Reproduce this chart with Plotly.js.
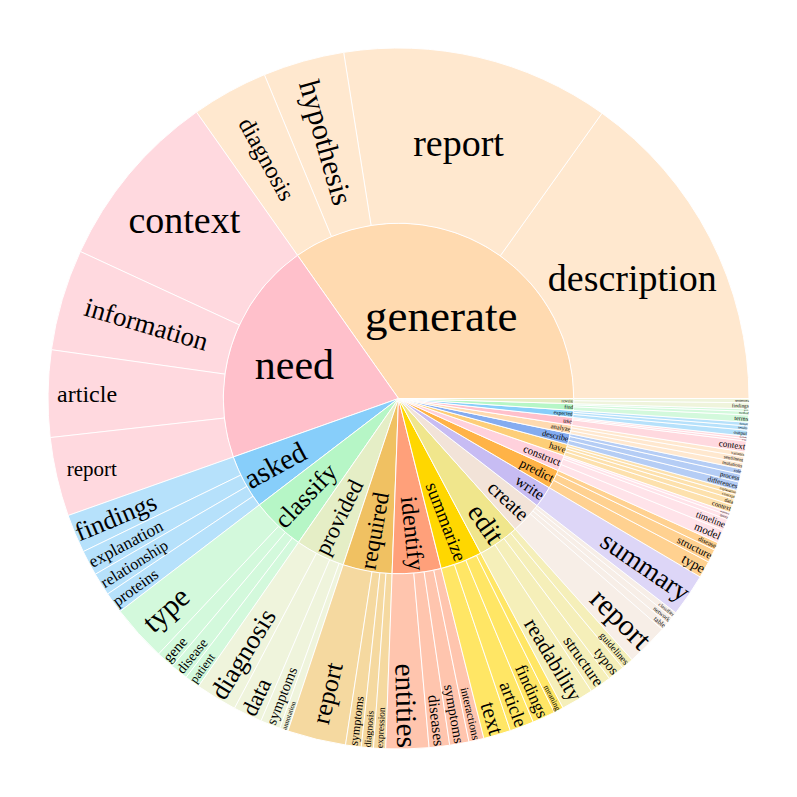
<!DOCTYPE html>
<html>
<head>
<meta charset="utf-8">
<script src="https://cdn.plot.ly/plotly-3.0.1.min.js"></script>
<style>html,body{margin:0;padding:0;background:#fff;}</style>
</head>
<body>
<div id="chart" style="width:797px;height:797px;"></div>
<script>
// root verbs, biggest first
var verbs = ['generate', 'need', 'asked', 'classify', 'provided', 'required', 'identify', 'summarize',
  'edit', 'create', 'write', 'predict', 'construct', 'have', 'describe', 'analyze', 'use',
  'expected', 'find', 'rewrite'];

var verbColors = ['#FFDAB0', '#FFC0CB', '#87CEFA', '#B6F6C6', '#E5EEC6', '#F0C162', '#FFA07A', '#FFD700',
  '#F0E68C', '#F2E3D8', '#C7BCF3', '#FFB347', '#FFD1DC', '#FDCE78', '#84ACF0', '#FFDAB0', '#FFC0CB',
  '#87CEFA', '#B6F6C6', '#E5EEC6'];

// second ring: noun, its verb, count
var nouns = ['description', 'report', 'hypothesis', 'diagnosis',
  'context', 'information', 'article', 'report',
  'findings', 'explanation', 'relationship', 'proteins',
  'type', 'gene', 'disease', 'patient',
  'diagnosis', 'data', 'symptoms', 'annotation',
  'report', 'symptoms', 'diagnosis', 'expression',
  'entities', 'diseases', 'symptoms', 'interactions',
  'text', 'article', 'findings', 'meaning',
  'readability', 'structure', 'typos', 'guidelines',
  'report', 'table', 'network', 'classifier',
  'summary',
  'type', 'structure', 'disease',
  'model', 'timeline', 'query', 'sequence',
  'context', 'data', 'concept', 'explanation',
  'differences', 'process', 'role',
  'mutations', 'sentiment', 'variants',
  'context', 'terms', 'methods',
  'output', 'results', 'format',
  'terms', 'method', 'guide',
  'findings', 'sentences'];

var nounVerb = ['generate', 'generate', 'generate', 'generate',
  'need', 'need', 'need', 'need',
  'asked', 'asked', 'asked', 'asked',
  'classify', 'classify', 'classify', 'classify',
  'provided', 'provided', 'provided', 'provided',
  'required', 'required', 'required', 'required',
  'identify', 'identify', 'identify', 'identify',
  'summarize', 'summarize', 'summarize', 'summarize',
  'edit', 'edit', 'edit', 'edit',
  'create', 'create', 'create', 'create',
  'write',
  'predict', 'predict', 'predict',
  'construct', 'construct', 'construct', 'construct',
  'have', 'have', 'have', 'have',
  'describe', 'describe', 'describe',
  'analyze', 'analyze', 'analyze',
  'use', 'use', 'use',
  'expected', 'expected', 'expected',
  'find', 'find', 'find',
  'rewrite', 'rewrite'];

var nounCounts = [545, 445, 135, 127,
  300, 168, 144, 131,
  64, 42, 38, 35,
  94, 30, 29, 25,
  69, 48, 33, 14,
  97, 26, 20, 20,
  71, 34, 32, 25,
  45, 40, 38, 16,
  54, 36, 28, 20,
  70, 13, 12, 10,
  71,
  28, 22, 13,
  22, 19, 7, 5,
  13, 10, 8, 7,
  14, 13, 9,
  10, 10, 8,
  18, 4, 4,
  10, 7, 6,
  12, 6, 4,
  10, 7];

// label font: root ring, outer ring, and a few labels drawn smaller
var rootFont = 45, leafFont = 38;
var fontOverride = {
  'need': 42,
  'generate/hypothesis': 30, 'generate/diagnosis': 24,
  'need/information': 27, 'need/article': 24, 'need/report': 21,
  'classify/type': 30, 'required/report': 26
};

var ids = [], labels = [], parents = [], values = [], colors = [], sizes = [];
verbs.forEach(function (v, i) {
  ids.push(v); labels.push(v); parents.push(''); values.push(0);
  colors.push(verbColors[i]);
});
nouns.forEach(function (n, i) {
  var v = nounVerb[i];
  ids.push(v + '/' + n); labels.push(n); parents.push(v); values.push(nounCounts[i]);
  colors.push(verbColors[verbs.indexOf(v)]);
});
ids.forEach(function (id) {
  sizes.push(fontOverride[id] || (id.indexOf('/') < 0 ? rootFont : leafFont));
});

var data = [{
  type: 'sunburst',
  ids: ids,
  labels: labels,
  parents: parents,
  values: values,
  branchvalues: 'remainder',
  marker: { colors: colors, line: { color: '#ffffff', width: 1 } },
  leaf: { opacity: 0.6 },
  textfont: { family: 'Liberation Serif', size: sizes, color: '#000' },
  insidetextorientation: 'auto',
  hoverinfo: 'label+value'
}];

var layout = {
  width: 797,
  height: 797,
  margin: { l: 48, r: 48, t: 48, b: 48 },
  paper_bgcolor: '#ffffff',
  showlegend: false
};

Plotly.newPlot('chart', data, layout, { displayModeBar: false });
</script>
</body>
</html>
